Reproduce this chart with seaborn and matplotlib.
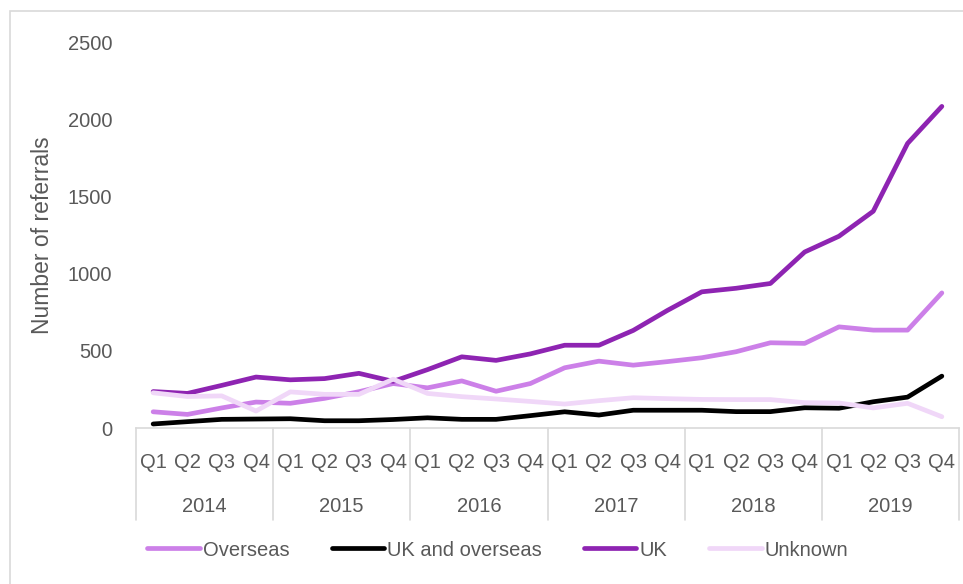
import numpy as np
import pandas as pd
import seaborn as sns
import matplotlib.pyplot as plt
from matplotlib.lines import Line2D
from matplotlib.patches import Rectangle

years = ["2014", "2015", "2016", "2017", "2018", "2019"]
quarters = ["Q1", "Q2", "Q3", "Q4"]

overseas = [105, 88, 130, 168, 160, 192, 235, 288, 260, 305, 238, 288,
            390, 433, 407, 430, 455, 494, 552, 548, 655, 634, 634, 875]
uk_and_overseas = [26, 41, 56, 58, 60, 47, 47, 55, 66, 56, 56, 80,
                   105, 84, 115, 115, 115, 106, 106, 131, 128, 170, 200, 336]
uk = [236, 224, 276, 330, 312, 320, 354, 302, 378, 461, 438, 480,
      536, 536, 632, 762, 882, 905, 936, 1140, 1242, 1404, 1843, 2083]
unknown = [228, 204, 208, 110, 234, 218, 218, 316, 224, 203, 188, 172,
           155, 177, 196, 190, 185, 184, 184, 164, 162, 130, 160, 73]

series_names = ["Overseas", "UK and overseas", "UK", "Unknown"]
colors = ["#CC80E8", "#000000", "#8E24B2", "#F0D7F8"]

n = len(years) * len(quarters)
df = pd.DataFrame({
    "pos": np.tile(np.arange(n), 4),
    "value": overseas + uk_and_overseas + uk + unknown,
    "series": np.repeat(series_names, n),
})

sns.set_style("white")
plt.rcParams["font.family"] = ["Liberation Sans", "DejaVu Sans"]
grey = "#595959"
line_grey = "#D9D9D9"
fs = 14.5

fig = plt.figure(figsize=(9.63, 5.84), dpi=100)
ax = fig.add_axes([136 / 963, 1 - 428 / 584, 823 / 963, 386 / 584])

sns.lineplot(data=df, x="pos", y="value", hue="series", hue_order=series_names,
             palette=colors, linewidth=3.4, ax=ax, legend=False)
for ln in ax.get_lines():
    ln.set_solid_capstyle("round")
    ln.set_solid_joinstyle("round")

ax.set_xlim(-0.5, n - 0.5)
ax.set_ylim(0, 2500)
ax.set_yticks(range(0, 2501, 500))
ax.set_xticks(range(n))
ax.set_xticklabels(quarters * len(years))
ax.tick_params(axis="x", length=0, pad=18, labelsize=fs, colors=grey)
ax.tick_params(axis="y", length=0, pad=17, labelsize=fs, colors=grey)
ax.set_xlabel("")
ax.set_ylabel("Number of referrals", fontsize=16.5, color=grey, labelpad=10)

for side in ["top", "right", "left"]:
    ax.spines[side].set_visible(False)
ax.spines["bottom"].set_color(line_grey)
ax.spines["bottom"].set_linewidth(1.2)

trans = ax.get_xaxis_transform()
for i in range(len(years) + 1):
    xb = i * 4 - 0.5
    ax.add_line(Line2D([xb, xb], [0, -92 / 386], transform=trans,
                       color=line_grey, linewidth=1.2, clip_on=False))
for i, yr in enumerate(years):
    ax.text(i * 4 + 1.5, -78 / 386, yr, transform=trans, ha="center",
            va="center", fontsize=fs, color=grey)

handles = [Line2D([0], [0], color=c, linewidth=3.4, solid_capstyle="round")
           for c in colors]
fig.legend(handles, series_names, loc="center", bbox_to_anchor=(0.517, 1 - 550 / 584),
           ncol=4, frameon=False, fontsize=fs, handlelength=2.6,
           handletextpad=0.15, columnspacing=2.1, labelcolor=grey)

fig.patches.append(Rectangle((10 / 963, -0.1), 1.2, 1 - 11 / 584 + 0.1,
                             transform=fig.transFigure, fill=False,
                             edgecolor=line_grey, linewidth=1.2))

fig.savefig("out.png", dpi=100)
